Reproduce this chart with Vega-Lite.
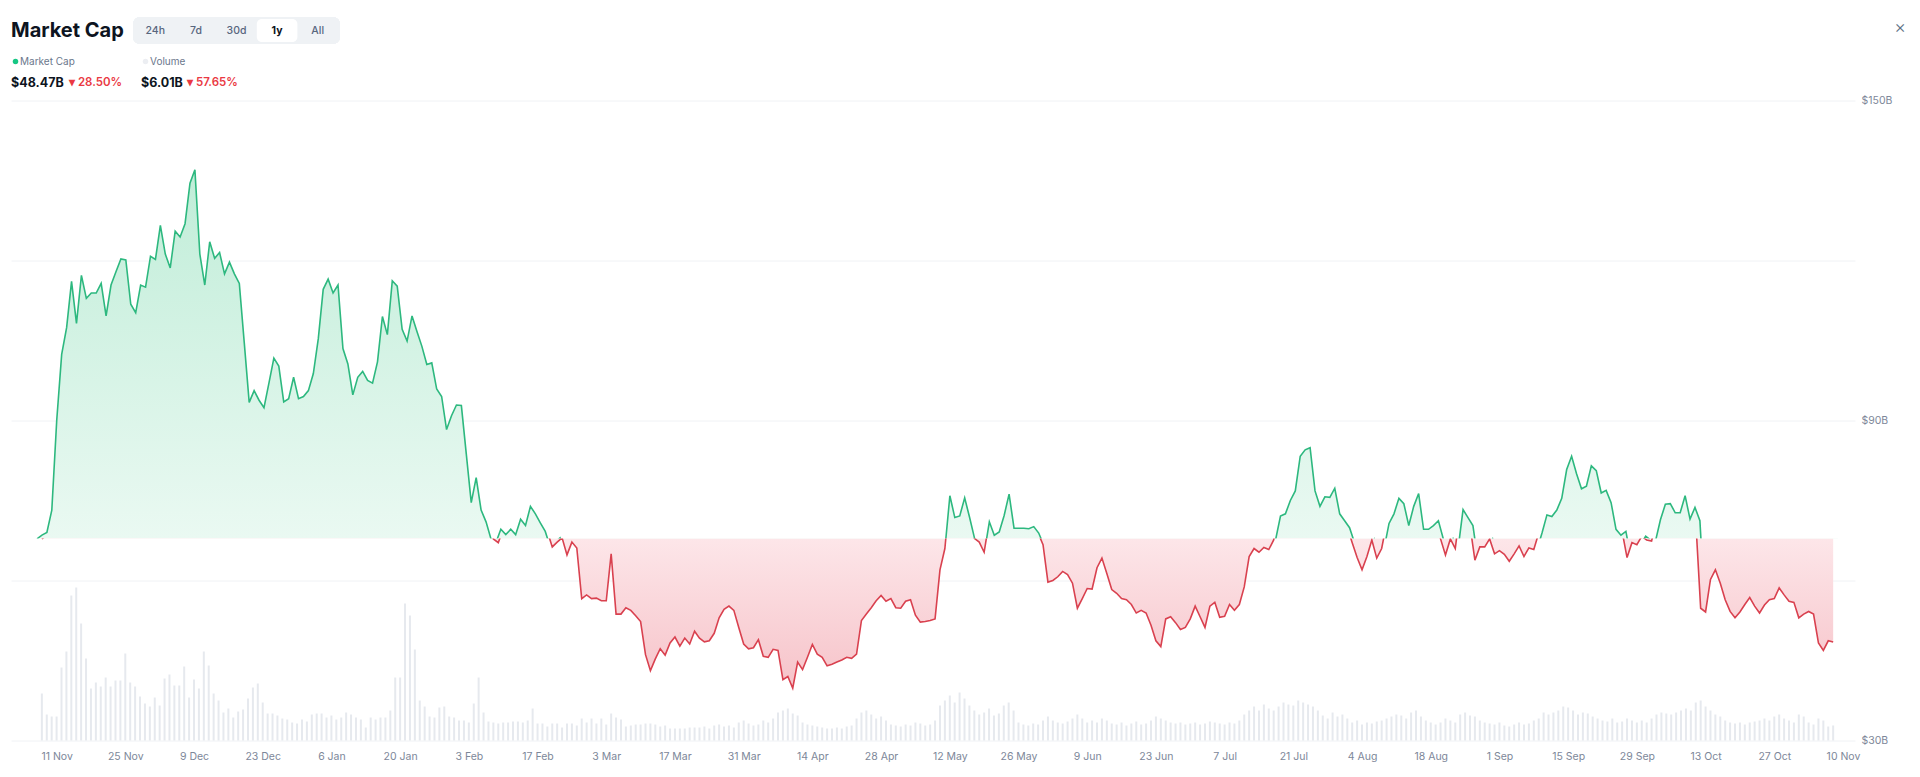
{
"$schema":"https://vega.github.io/schema/vega-lite/v6.json",
"background":"white",
"padding":{"left":11,"top":17,"right":0,"bottom":0},
"config":{"font":"Inter","view":{"stroke":null}},
"spacing":7,
"datasets":{
"ranges":[{"range":"24h"},{"range":"7d"},{"range":"30d"},{"range":"1y"},{"range":"All"}],
"market":[
{"date":"2024-11-08","cap":67.8,"vol":18.8},{"date":"2024-11-09","cap":68.5,"vol":10.4},{"date":"2024-11-10","cap":69.0,"vol":9.6},{"date":"2024-11-11","cap":73.2,"vol":9.6},{"date":"2024-11-12","cap":90.1,"vol":29.2},{"date":"2024-11-13","cap":102.4,"vol":35.6},{"date":"2024-11-14","cap":107.4,"vol":58.0},{"date":"2024-11-15","cap":116.1,"vol":61.2},{"date":"2024-11-16","cap":108.2,"vol":46.8},{"date":"2024-11-17","cap":117.2,"vol":32.8},{"date":"2024-11-18","cap":112.9,"vol":20.8},{"date":"2024-11-19","cap":113.9,"vol":23.2},{"date":"2024-11-20","cap":113.9,"vol":21.6},{"date":"2024-11-21","cap":115.7,"vol":25.2},{"date":"2024-11-22","cap":109.6,"vol":21.6},{"date":"2024-11-23","cap":115.4,"vol":24.0},{"date":"2024-11-24","cap":117.9,"vol":24.0},{"date":"2024-11-25","cap":120.3,"vol":34.8},{"date":"2024-11-26","cap":120.1,"vol":23.2},{"date":"2024-11-27","cap":111.8,"vol":21.6},{"date":"2024-11-28","cap":110.2,"vol":17.6},{"date":"2024-11-29","cap":115.4,"vol":14.8},{"date":"2024-11-30","cap":115.0,"vol":13.6},
{"date":"2024-12-01","cap":120.8,"vol":17.2},{"date":"2024-12-02","cap":120.2,"vol":14.0},{"date":"2024-12-03","cap":126.6,"vol":24.8},{"date":"2024-12-04","cap":121.2,"vol":26.4},{"date":"2024-12-05","cap":118.6,"vol":22.0},{"date":"2024-12-06","cap":125.5,"vol":22.0},{"date":"2024-12-07","cap":124.4,"vol":29.6},{"date":"2024-12-08","cap":126.9,"vol":17.2},{"date":"2024-12-09","cap":134.5,"vol":24.4},{"date":"2024-12-10","cap":137.0,"vol":20.8},{"date":"2024-12-11","cap":121.2,"vol":35.6},{"date":"2024-12-12","cap":115.4,"vol":30.0},{"date":"2024-12-13","cap":123.5,"vol":18.8},{"date":"2024-12-14","cap":120.4,"vol":16.0},{"date":"2024-12-15","cap":121.5,"vol":11.2},{"date":"2024-12-16","cap":117.5,"vol":12.8},{"date":"2024-12-17","cap":119.7,"vol":9.2},{"date":"2024-12-18","cap":117.5,"vol":11.6},{"date":"2024-12-19","cap":115.7,"vol":12.4},{"date":"2024-12-20","cap":104.6,"vol":16.8},{"date":"2024-12-21","cap":93.4,"vol":21.2},{"date":"2024-12-22","cap":95.6,"vol":22.8},{"date":"2024-12-23","cap":93.8,"vol":15.2},{"date":"2024-12-24","cap":92.4,"vol":10.8},{"date":"2024-12-25","cap":97.0,"vol":10.8},{"date":"2024-12-26","cap":101.7,"vol":10.0},{"date":"2024-12-27","cap":100.2,"vol":8.8},{"date":"2024-12-28","cap":93.5,"vol":8.4},{"date":"2024-12-29","cap":94.1,"vol":7.2},{"date":"2024-12-30","cap":98.1,"vol":6.8},{"date":"2024-12-31","cap":94.1,"vol":8.4},
{"date":"2025-01-01","cap":94.5,"vol":7.6},{"date":"2025-01-02","cap":95.6,"vol":10.4},{"date":"2025-01-03","cap":98.8,"vol":10.8},{"date":"2025-01-04","cap":105.3,"vol":10.8},{"date":"2025-01-05","cap":114.6,"vol":9.2},{"date":"2025-01-06","cap":116.5,"vol":10.0},{"date":"2025-01-07","cap":113.9,"vol":8.4},{"date":"2025-01-08","cap":115.4,"vol":9.2},{"date":"2025-01-09","cap":103.5,"vol":11.2},{"date":"2025-01-10","cap":100.6,"vol":10.4},{"date":"2025-01-11","cap":94.8,"vol":9.2},{"date":"2025-01-12","cap":98.1,"vol":8.4},{"date":"2025-01-13","cap":99.2,"vol":5.2},{"date":"2025-01-14","cap":97.5,"vol":9.2},{"date":"2025-01-15","cap":97.0,"vol":8.4},{"date":"2025-01-16","cap":101.0,"vol":9.2},{"date":"2025-01-17","cap":109.5,"vol":9.2},{"date":"2025-01-18","cap":106.1,"vol":12.0},{"date":"2025-01-19","cap":116.2,"vol":25.2},{"date":"2025-01-20","cap":115.2,"vol":25.2},{"date":"2025-01-21","cap":107.1,"vol":54.8},{"date":"2025-01-22","cap":104.9,"vol":50.0},{"date":"2025-01-23","cap":109.6,"vol":36.4},{"date":"2025-01-24","cap":106.7,"vol":16.0},{"date":"2025-01-25","cap":103.9,"vol":13.6},{"date":"2025-01-26","cap":100.5,"vol":9.6},{"date":"2025-01-27","cap":100.8,"vol":9.2},{"date":"2025-01-28","cap":95.9,"vol":13.2},{"date":"2025-01-29","cap":94.5,"vol":13.6},{"date":"2025-01-30","cap":88.3,"vol":9.6},{"date":"2025-01-31","cap":90.9,"vol":9.2},
{"date":"2025-02-01","cap":92.9,"vol":8.0},{"date":"2025-02-02","cap":92.8,"vol":8.0},{"date":"2025-02-03","cap":83.7,"vol":7.2},{"date":"2025-02-04","cap":74.6,"vol":14.8},{"date":"2025-02-05","cap":79.3,"vol":25.2},{"date":"2025-02-06","cap":73.2,"vol":11.2},{"date":"2025-02-07","cap":71.0,"vol":7.6},{"date":"2025-02-08","cap":67.8,"vol":7.2},{"date":"2025-02-09","cap":67.1,"vol":6.8},{"date":"2025-02-10","cap":69.6,"vol":7.2},{"date":"2025-02-11","cap":68.6,"vol":7.2},{"date":"2025-02-12","cap":69.6,"vol":7.6},{"date":"2025-02-13","cap":68.6,"vol":7.6},{"date":"2025-02-14","cap":71.5,"vol":7.2},{"date":"2025-02-15","cap":70.3,"vol":8.0},{"date":"2025-02-16","cap":73.9,"vol":12.8},{"date":"2025-02-17","cap":72.5,"vol":6.8},{"date":"2025-02-18","cap":70.8,"vol":6.8},{"date":"2025-02-19","cap":69.2,"vol":5.6},{"date":"2025-02-20","cap":66.3,"vol":6.8},{"date":"2025-02-21","cap":67.2,"vol":6.8},{"date":"2025-02-22","cap":68.0,"vol":5.2},{"date":"2025-02-23","cap":64.8,"vol":6.8},{"date":"2025-02-24","cap":67.2,"vol":6.8},{"date":"2025-02-25","cap":66.1,"vol":6.0},{"date":"2025-02-26","cap":56.6,"vol":8.8},{"date":"2025-02-27","cap":57.3,"vol":7.2},{"date":"2025-02-28","cap":56.6,"vol":8.8},
{"date":"2025-03-01","cap":56.7,"vol":6.8},{"date":"2025-03-02","cap":56.2,"vol":8.8},{"date":"2025-03-03","cap":56.2,"vol":6.4},{"date":"2025-03-04","cap":65.0,"vol":10.8},{"date":"2025-03-05","cap":53.7,"vol":9.2},{"date":"2025-03-06","cap":53.7,"vol":8.4},{"date":"2025-03-07","cap":54.9,"vol":5.6},{"date":"2025-03-08","cap":54.4,"vol":6.0},{"date":"2025-03-09","cap":53.4,"vol":6.4},{"date":"2025-03-10","cap":52.3,"vol":6.4},{"date":"2025-03-11","cap":46.1,"vol":6.8},{"date":"2025-03-12","cap":43.1,"vol":6.8},{"date":"2025-03-13","cap":45.3,"vol":6.4},{"date":"2025-03-14","cap":47.2,"vol":5.6},{"date":"2025-03-15","cap":46.0,"vol":6.0},{"date":"2025-03-16","cap":48.3,"vol":4.8},{"date":"2025-03-17","cap":49.4,"vol":4.8},{"date":"2025-03-18","cap":47.7,"vol":4.8},{"date":"2025-03-19","cap":49.2,"vol":4.8},{"date":"2025-03-20","cap":48.1,"vol":5.2},{"date":"2025-03-21","cap":50.5,"vol":5.2},{"date":"2025-03-22","cap":49.2,"vol":5.2},{"date":"2025-03-23","cap":48.5,"vol":5.6},{"date":"2025-03-24","cap":48.7,"vol":4.8},{"date":"2025-03-25","cap":50.1,"vol":6.0},{"date":"2025-03-26","cap":53.0,"vol":6.4},{"date":"2025-03-27","cap":54.6,"vol":5.6},{"date":"2025-03-28","cap":55.2,"vol":6.0},{"date":"2025-03-29","cap":54.4,"vol":5.2},{"date":"2025-03-30","cap":51.2,"vol":7.2},{"date":"2025-03-31","cap":48.1,"vol":8.0},
{"date":"2025-04-01","cap":47.2,"vol":6.8},{"date":"2025-04-02","cap":47.4,"vol":6.0},{"date":"2025-04-03","cap":48.9,"vol":6.4},{"date":"2025-04-04","cap":45.8,"vol":8.0},{"date":"2025-04-05","cap":45.6,"vol":7.2},{"date":"2025-04-06","cap":47.1,"vol":8.8},{"date":"2025-04-07","cap":46.9,"vol":11.2},{"date":"2025-04-08","cap":41.4,"vol":12.0},{"date":"2025-04-09","cap":42.0,"vol":12.8},{"date":"2025-04-10","cap":39.8,"vol":10.8},{"date":"2025-04-11","cap":44.7,"vol":10.0},{"date":"2025-04-12","cap":43.3,"vol":7.2},{"date":"2025-04-13","cap":45.6,"vol":6.4},{"date":"2025-04-14","cap":48.0,"vol":6.0},{"date":"2025-04-15","cap":46.2,"vol":5.6},{"date":"2025-04-16","cap":45.6,"vol":5.2},{"date":"2025-04-17","cap":44.0,"vol":4.8},{"date":"2025-04-18","cap":44.3,"vol":4.8},{"date":"2025-04-19","cap":44.7,"vol":5.2},{"date":"2025-04-20","cap":45.1,"vol":4.8},{"date":"2025-04-21","cap":45.6,"vol":5.6},{"date":"2025-04-22","cap":45.4,"vol":6.0},{"date":"2025-04-23","cap":46.2,"vol":8.8},{"date":"2025-04-24","cap":52.5,"vol":11.2},{"date":"2025-04-25","cap":53.7,"vol":12.0},{"date":"2025-04-26","cap":54.9,"vol":10.4},{"date":"2025-04-27","cap":56.2,"vol":8.8},{"date":"2025-04-28","cap":57.2,"vol":9.6},{"date":"2025-04-29","cap":56.1,"vol":8.0},{"date":"2025-04-30","cap":56.6,"vol":6.4},
{"date":"2025-05-01","cap":54.9,"vol":6.0},{"date":"2025-05-02","cap":54.8,"vol":5.6},{"date":"2025-05-03","cap":56.1,"vol":6.4},{"date":"2025-05-04","cap":56.4,"vol":6.0},{"date":"2025-05-05","cap":53.5,"vol":7.2},{"date":"2025-05-06","cap":52.2,"vol":6.8},{"date":"2025-05-07","cap":52.3,"vol":6.0},{"date":"2025-05-08","cap":52.5,"vol":6.4},{"date":"2025-05-09","cap":52.8,"vol":8.0},{"date":"2025-05-10","cap":62.0,"vol":14.0},{"date":"2025-05-11","cap":66.0,"vol":16.0},{"date":"2025-05-12","cap":75.9,"vol":18.0},{"date":"2025-05-13","cap":71.8,"vol":15.2},{"date":"2025-05-14","cap":72.1,"vol":19.2},{"date":"2025-05-15","cap":75.5,"vol":16.8},{"date":"2025-05-16","cap":71.8,"vol":14.0},{"date":"2025-05-17","cap":67.9,"vol":12.0},{"date":"2025-05-18","cap":67.2,"vol":10.4},{"date":"2025-05-19","cap":65.3,"vol":11.2},{"date":"2025-05-20","cap":71.0,"vol":12.8},{"date":"2025-05-21","cap":68.5,"vol":10.0},{"date":"2025-05-22","cap":69.1,"vol":10.8},{"date":"2025-05-23","cap":72.2,"vol":14.0},{"date":"2025-05-24","cap":76.2,"vol":15.2},{"date":"2025-05-25","cap":69.8,"vol":12.0},{"date":"2025-05-26","cap":69.8,"vol":7.2},{"date":"2025-05-27","cap":69.8,"vol":6.4},{"date":"2025-05-28","cap":69.7,"vol":6.0},{"date":"2025-05-29","cap":70.1,"vol":6.8},{"date":"2025-05-30","cap":68.9,"vol":6.4},{"date":"2025-05-31","cap":66.7,"vol":8.0},
{"date":"2025-06-01","cap":59.7,"vol":9.6},{"date":"2025-06-02","cap":60.0,"vol":8.0},{"date":"2025-06-03","cap":60.7,"vol":7.2},{"date":"2025-06-04","cap":61.7,"vol":6.8},{"date":"2025-06-05","cap":61.1,"vol":7.6},{"date":"2025-06-06","cap":59.5,"vol":8.8},{"date":"2025-06-07","cap":54.8,"vol":10.4},{"date":"2025-06-08","cap":56.6,"vol":8.8},{"date":"2025-06-09","cap":58.5,"vol":7.2},{"date":"2025-06-10","cap":58.4,"vol":8.0},{"date":"2025-06-11","cap":62.4,"vol":7.2},{"date":"2025-06-12","cap":64.2,"vol":8.8},{"date":"2025-06-13","cap":61.3,"vol":8.0},{"date":"2025-06-14","cap":58.3,"vol":6.8},{"date":"2025-06-15","cap":57.6,"vol":6.4},{"date":"2025-06-16","cap":56.6,"vol":7.2},{"date":"2025-06-17","cap":56.4,"vol":6.0},{"date":"2025-06-18","cap":55.5,"vol":6.8},{"date":"2025-06-19","cap":53.9,"vol":7.6},{"date":"2025-06-20","cap":54.4,"vol":6.4},{"date":"2025-06-21","cap":53.9,"vol":6.8},{"date":"2025-06-22","cap":51.6,"vol":8.0},{"date":"2025-06-23","cap":48.7,"vol":9.6},{"date":"2025-06-24","cap":47.6,"vol":8.8},{"date":"2025-06-25","cap":52.8,"vol":8.0},{"date":"2025-06-26","cap":53.2,"vol":7.2},{"date":"2025-06-27","cap":52.1,"vol":6.8},{"date":"2025-06-28","cap":50.8,"vol":7.2},{"date":"2025-06-29","cap":51.2,"vol":6.4},{"date":"2025-06-30","cap":52.8,"vol":6.8},
{"date":"2025-07-01","cap":55.2,"vol":7.2},{"date":"2025-07-02","cap":53.2,"vol":6.4},{"date":"2025-07-03","cap":51.2,"vol":6.8},{"date":"2025-07-04","cap":55.2,"vol":7.6},{"date":"2025-07-05","cap":55.9,"vol":7.2},{"date":"2025-07-06","cap":53.1,"vol":6.8},{"date":"2025-07-07","cap":53.3,"vol":6.4},{"date":"2025-07-08","cap":55.5,"vol":7.2},{"date":"2025-07-09","cap":54.4,"vol":6.8},{"date":"2025-07-10","cap":55.5,"vol":8.0},{"date":"2025-07-11","cap":58.8,"vol":10.4},{"date":"2025-07-12","cap":64.5,"vol":12.0},{"date":"2025-07-13","cap":66.0,"vol":13.6},{"date":"2025-07-14","cap":65.3,"vol":12.0},{"date":"2025-07-15","cap":66.2,"vol":14.4},{"date":"2025-07-16","cap":65.8,"vol":12.8},{"date":"2025-07-17","cap":67.6,"vol":12.0},{"date":"2025-07-18","cap":72.1,"vol":13.6},{"date":"2025-07-19","cap":72.5,"vol":15.2},{"date":"2025-07-20","cap":75.0,"vol":14.4},{"date":"2025-07-21","cap":76.8,"vol":14.0},{"date":"2025-07-22","cap":83.3,"vol":16.0},{"date":"2025-07-23","cap":84.5,"vol":15.2},{"date":"2025-07-24","cap":84.9,"vol":14.4},{"date":"2025-07-25","cap":76.8,"vol":13.6},{"date":"2025-07-26","cap":73.9,"vol":12.0},{"date":"2025-07-27","cap":75.7,"vol":10.0},{"date":"2025-07-28","cap":75.6,"vol":8.8},{"date":"2025-07-29","cap":77.3,"vol":11.2},{"date":"2025-07-30","cap":72.5,"vol":9.6},{"date":"2025-07-31","cap":71.2,"vol":10.4},
{"date":"2025-08-01","cap":69.9,"vol":8.8},{"date":"2025-08-02","cap":67.1,"vol":7.2},{"date":"2025-08-03","cap":64.3,"vol":8.0},{"date":"2025-08-04","cap":62.0,"vol":6.4},{"date":"2025-08-05","cap":64.5,"vol":7.2},{"date":"2025-08-06","cap":67.6,"vol":6.8},{"date":"2025-08-07","cap":64.2,"vol":7.6},{"date":"2025-08-08","cap":66.0,"vol":8.0},{"date":"2025-08-09","cap":70.7,"vol":8.8},{"date":"2025-08-10","cap":72.5,"vol":9.6},{"date":"2025-08-11","cap":75.4,"vol":10.4},{"date":"2025-08-12","cap":74.4,"vol":10.0},{"date":"2025-08-13","cap":70.3,"vol":8.8},{"date":"2025-08-14","cap":73.9,"vol":11.2},{"date":"2025-08-15","cap":76.3,"vol":12.0},{"date":"2025-08-16","cap":69.6,"vol":9.6},{"date":"2025-08-17","cap":69.6,"vol":8.0},{"date":"2025-08-18","cap":70.3,"vol":7.2},{"date":"2025-08-19","cap":71.2,"vol":6.4},{"date":"2025-08-20","cap":67.8,"vol":7.2},{"date":"2025-08-21","cap":64.8,"vol":8.8},{"date":"2025-08-22","cap":67.8,"vol":8.0},{"date":"2025-08-23","cap":66.0,"vol":7.2},{"date":"2025-08-24","cap":73.3,"vol":10.4},{"date":"2025-08-25","cap":71.8,"vol":11.2},{"date":"2025-08-26","cap":70.3,"vol":10.0},{"date":"2025-08-27","cap":63.8,"vol":9.6},{"date":"2025-08-28","cap":66.3,"vol":8.0},{"date":"2025-08-29","cap":66.3,"vol":7.2},{"date":"2025-08-30","cap":67.8,"vol":6.8},{"date":"2025-08-31","cap":65.0,"vol":6.4},
{"date":"2025-09-01","cap":65.6,"vol":7.2},{"date":"2025-09-02","cap":64.9,"vol":6.0},{"date":"2025-09-03","cap":63.6,"vol":5.6},{"date":"2025-09-04","cap":65.0,"vol":6.4},{"date":"2025-09-05","cap":66.5,"vol":7.2},{"date":"2025-09-06","cap":64.5,"vol":6.4},{"date":"2025-09-07","cap":66.1,"vol":6.8},{"date":"2025-09-08","cap":65.8,"vol":8.0},{"date":"2025-09-09","cap":68.9,"vol":8.8},{"date":"2025-09-10","cap":72.3,"vol":11.2},{"date":"2025-09-11","cap":72.0,"vol":10.4},{"date":"2025-09-12","cap":73.2,"vol":11.2},{"date":"2025-09-13","cap":75.4,"vol":12.0},{"date":"2025-09-14","cap":80.8,"vol":13.6},{"date":"2025-09-15","cap":83.3,"vol":13.2},{"date":"2025-09-16","cap":80.0,"vol":12.0},{"date":"2025-09-17","cap":77.2,"vol":10.4},{"date":"2025-09-18","cap":77.7,"vol":11.2},{"date":"2025-09-19","cap":81.5,"vol":10.8},{"date":"2025-09-20","cap":80.6,"vol":9.6},{"date":"2025-09-21","cap":76.4,"vol":8.8},{"date":"2025-09-22","cap":76.9,"vol":8.0},{"date":"2025-09-23","cap":74.6,"vol":7.6},{"date":"2025-09-24","cap":69.6,"vol":8.8},{"date":"2025-09-25","cap":68.5,"vol":7.2},{"date":"2025-09-26","cap":69.2,"vol":7.6},{"date":"2025-09-27","cap":64.3,"vol":8.8},{"date":"2025-09-28","cap":67.1,"vol":8.0},{"date":"2025-09-29","cap":66.7,"vol":7.2},{"date":"2025-09-30","cap":68.3,"vol":8.0},
{"date":"2025-10-01","cap":67.6,"vol":7.2},{"date":"2025-10-02","cap":67.4,"vol":8.8},{"date":"2025-10-03","cap":71.4,"vol":10.4},{"date":"2025-10-04","cap":74.3,"vol":11.2},{"date":"2025-10-05","cap":74.4,"vol":10.8},{"date":"2025-10-06","cap":72.7,"vol":10.4},{"date":"2025-10-07","cap":72.7,"vol":11.2},{"date":"2025-10-08","cap":75.9,"vol":12.0},{"date":"2025-10-09","cap":71.5,"vol":12.8},{"date":"2025-10-10","cap":73.7,"vol":12.0},{"date":"2025-10-11","cap":71.2,"vol":15.2},{"date":"2025-10-12","cap":54.8,"vol":16.0},{"date":"2025-10-13","cap":54.1,"vol":13.6},{"date":"2025-10-14","cap":60.2,"vol":12.0},{"date":"2025-10-15","cap":62.0,"vol":10.4},{"date":"2025-10-16","cap":59.5,"vol":9.6},{"date":"2025-10-17","cap":56.4,"vol":8.0},{"date":"2025-10-18","cap":54.2,"vol":7.2},{"date":"2025-10-19","cap":53.0,"vol":6.8},{"date":"2025-10-20","cap":54.1,"vol":7.2},{"date":"2025-10-21","cap":55.5,"vol":6.4},{"date":"2025-10-22","cap":56.8,"vol":7.2},{"date":"2025-10-23","cap":55.2,"vol":7.6},{"date":"2025-10-24","cap":53.9,"vol":8.0},{"date":"2025-10-25","cap":55.4,"vol":8.8},{"date":"2025-10-26","cap":56.4,"vol":8.0},{"date":"2025-10-27","cap":56.6,"vol":9.6},{"date":"2025-10-28","cap":58.6,"vol":10.4},{"date":"2025-10-29","cap":57.3,"vol":8.8},{"date":"2025-10-30","cap":56.1,"vol":8.0},{"date":"2025-10-31","cap":55.9,"vol":7.2},
{"date":"2025-11-01","cap":53.0,"vol":10.4},{"date":"2025-11-02","cap":53.7,"vol":9.6},{"date":"2025-11-03","cap":54.2,"vol":7.2},{"date":"2025-11-04","cap":53.7,"vol":6.4},{"date":"2025-11-05","cap":48.3,"vol":8.8},{"date":"2025-11-06","cap":46.9,"vol":8.0},{"date":"2025-11-07","cap":48.7,"vol":5.6},{"date":"2025-11-08","cap":48.47,"vol":6.01}
]},
"vconcat":[
{
"spacing":14,"bounds":"flush",
"resolve":{"scale":{"x":"independent"}},
"hconcat":[
{"width":110,"height":23,"data":{"values":[{"label":"Market Cap"}]},"mark":{"type":"text","fontSize":20,"fontWeight":700,"color":"#0d1421","align":"left","baseline":"middle"},"encoding":{"x":{"datum":0,"type":"quantitative","scale":{"domain":[0,1]},"axis":null},"text":{"field":"label"}}},
{
"width":203,"height":23,
"data":{"name":"ranges"},
"layer":[
{"mark":{"type":"rect","color":"#eff2f5","stroke":"#eff2f5","strokeWidth":4,"cornerRadius":5}},
{"transform":[{"filter":"datum.range === '1y'"}],"mark":{"type":"bar","color":"#ffffff","cornerRadius":5,"size":37},"encoding":{"x":{"field":"range","type":"nominal","sort":null,"axis":null,"scale":{"domain":["24h","7d","30d","1y","All"],"paddingInner":0,"paddingOuter":0}}}},
{"transform":[{"filter":"datum.range !== '1y'"}],"mark":{"type":"text","fontSize":10.5,"color":"#58667e","fontWeight":500},"encoding":{"x":{"field":"range","type":"nominal","sort":null,"axis":null,"scale":{"domain":["24h","7d","30d","1y","All"],"paddingInner":0,"paddingOuter":0}},"text":{"field":"range"}}},
{"transform":[{"filter":"datum.range === '1y'"}],"mark":{"type":"text","fontSize":10.5,"color":"#0d1421","fontWeight":700},"encoding":{"x":{"field":"range","type":"nominal","sort":null,"axis":null,"scale":{"domain":["24h","7d","30d","1y","All"],"paddingInner":0,"paddingOuter":0}},"text":{"field":"range"}}}
]
},
{"width":1548,"height":23,"data":{"values":[{"icon":"×"}]},"mark":{"type":"text","fontSize":18,"fontWeight":300,"color":"#616e85","align":"center","baseline":"middle","dy":-3},"encoding":{"x":{"datum":1,"type":"quantitative","scale":{"domain":[0,1]},"axis":null},"text":{"field":"icon"}}}
]
},
{
"spacing":2.5,
"vconcat":[
{
"spacing":0,"bounds":"flush",
"resolve":{"scale":{"x":"independent","y":"independent"}},
"hconcat":[
{"width":9,"height":42,"layer":[
{"data":{"values":[{"line":"legend"}]},"mark":{"type":"point","filled":true,"shape":"circle","size":30,"color":"#16c784","opacity":1},"encoding":{"y":{"field":"line","type":"nominal","scale":{"type":"point","domain":["legend","value"],"padding":0.5},"axis":null}}},
{"data":{"values":[{"line":"value","label":"$48.47B"}]},"mark":{"type":"text","align":"left","baseline":"middle","fontSize":12.5,"fontWeight":700,"color":"#0d1421"},"encoding":{"x":{"datum":0,"type":"quantitative","scale":{"domain":[0,1]},"axis":null},"y":{"field":"line","type":"nominal","scale":{"type":"point","domain":["legend","value"],"padding":0.5},"axis":null},"text":{"field":"label"}}}
]},
{"width":49,"height":42,"data":{"values":[{"line":"legend","label":"Market Cap"}]},"mark":{"type":"text","align":"left","baseline":"middle","fontSize":10,"color":"#6b778c"},"encoding":{"x":{"datum":0,"type":"quantitative","scale":{"domain":[0,1]},"axis":null},"y":{"field":"line","type":"nominal","scale":{"type":"point","domain":["legend","value"],"padding":0.5},"axis":null},"text":{"field":"label"}}},
{"width":72,"height":42,"data":{"values":[{"line":"value","label":"▾ 28.50%"}]},"mark":{"type":"text","align":"left","baseline":"middle","fontSize":11.5,"fontWeight":600,"color":"#ea3943"},"encoding":{"x":{"datum":0,"type":"quantitative","scale":{"domain":[0,1]},"axis":null},"y":{"field":"line","type":"nominal","scale":{"type":"point","domain":["legend","value"],"padding":0.5},"axis":null},"text":{"field":"label"}}},
{"width":9,"height":42,"layer":[
{"data":{"values":[{"line":"legend"}]},"mark":{"type":"point","filled":true,"shape":"circle","size":30,"color":"#eceef2","opacity":1},"encoding":{"y":{"field":"line","type":"nominal","scale":{"type":"point","domain":["legend","value"],"padding":0.5},"axis":null}}},
{"data":{"values":[{"line":"value","label":"$6.01B"}]},"mark":{"type":"text","align":"left","baseline":"middle","fontSize":12.5,"fontWeight":700,"color":"#0d1421"},"encoding":{"x":{"datum":0,"type":"quantitative","scale":{"domain":[0,1]},"axis":null},"y":{"field":"line","type":"nominal","scale":{"type":"point","domain":["legend","value"],"padding":0.5},"axis":null},"text":{"field":"label"}}}
]},
{"width":37,"height":42,"data":{"values":[{"line":"legend","label":"Volume"}]},"mark":{"type":"text","align":"left","baseline":"middle","fontSize":10,"color":"#6b778c"},"encoding":{"x":{"datum":0,"type":"quantitative","scale":{"domain":[0,1]},"axis":null},"y":{"field":"line","type":"nominal","scale":{"type":"point","domain":["legend","value"],"padding":0.5},"axis":null},"text":{"field":"label"}}},
{"width":60,"height":42,"data":{"values":[{"line":"value","label":"▾ 57.65%"}]},"mark":{"type":"text","align":"left","baseline":"middle","fontSize":11.5,"fontWeight":600,"color":"#ea3943"},"encoding":{"x":{"datum":0,"type":"quantitative","scale":{"domain":[0,1]},"axis":null},"y":{"field":"line","type":"nominal","scale":{"type":"point","domain":["legend","value"],"padding":0.5},"axis":null},"text":{"field":"label"}}}
]
},
{
"spacing":0,
"vconcat":[
{
"width":1844,"height":438,
"data":{"name":"market"},
"encoding":{
"x":{"field":"date","type":"temporal","scale":{"type":"utc","domain":[{"year":2024,"month":11,"date":2,"hours":17,"minutes":30,"utc":true},{"year":2025,"month":11,"date":11,"hours":10,"minutes":20,"utc":true}]},"axis":null},
"y":{"field":"cap","type":"quantitative","scale":{"domain":[67.875,150],"nice":false,"zero":false},"axis":{"orient":"right","values":[90,120,150],"labelExpr":"datum.value == 120 ? '' : '$' + datum.value + 'B'","grid":true,"gridColor":"#f0f2f5","ticks":false,"domain":false,"labelFontSize":10.5,"labelColor":"#7d8799","labelPadding":6,"title":null}}
},
"layer":[
{"mark":{"type":"area","clip":true,"color":{"gradient":"linear","x1":0,"y1":0,"x2":0,"y2":1,"stops":[{"offset":0,"color":"#c0edd8"},{"offset":0.711,"color":"#eaf9f2"},{"offset":1,"color":"#eaf9f2"}]}},"encoding":{"y2":{"datum":67.875}}},
{"mark":{"type":"line","clip":true,"color":"#2db87f","strokeWidth":1.6}}
]
},
{
"width":1844,"height":202,
"data":{"name":"market"},
"encoding":{
"x":{"field":"date","type":"temporal","scale":{"type":"utc","domain":[{"year":2024,"month":11,"date":2,"hours":17,"minutes":30,"utc":true},{"year":2025,"month":11,"date":11,"hours":10,"minutes":20,"utc":true}]},"axis":{"values":[{"year":2024,"month":11,"date":11,"utc":true},{"year":2024,"month":11,"date":25,"utc":true},{"year":2024,"month":12,"date":9,"utc":true},{"year":2024,"month":12,"date":23,"utc":true},{"year":2025,"month":1,"date":6,"utc":true},{"year":2025,"month":1,"date":20,"utc":true},{"year":2025,"month":2,"date":3,"utc":true},{"year":2025,"month":2,"date":17,"utc":true},{"year":2025,"month":3,"date":3,"utc":true},{"year":2025,"month":3,"date":17,"utc":true},{"year":2025,"month":3,"date":31,"utc":true},{"year":2025,"month":4,"date":14,"utc":true},{"year":2025,"month":4,"date":28,"utc":true},{"year":2025,"month":5,"date":12,"utc":true},{"year":2025,"month":5,"date":26,"utc":true},{"year":2025,"month":6,"date":9,"utc":true},{"year":2025,"month":6,"date":23,"utc":true},{"year":2025,"month":7,"date":7,"utc":true},{"year":2025,"month":7,"date":21,"utc":true},{"year":2025,"month":8,"date":4,"utc":true},{"year":2025,"month":8,"date":18,"utc":true},{"year":2025,"month":9,"date":1,"utc":true},{"year":2025,"month":9,"date":15,"utc":true},{"year":2025,"month":9,"date":29,"utc":true},{"year":2025,"month":10,"date":13,"utc":true},{"year":2025,"month":10,"date":27,"utc":true},{"year":2025,"month":11,"date":10,"utc":true}],"format":"%-d %b","labelFontSize":10.5,"labelColor":"#7d8799","ticks":false,"domain":false,"grid":false,"labelPadding":11,"labelFlush":false,"labelOverlap":false,"title":null}}
},
"layer":[
{"mark":{"type":"bar","color":"#e6e9ee","size":2},"encoding":{"y":{"field":"vol","type":"quantitative","scale":{"domain":[0,80.8],"nice":false},"axis":null}}},
{"encoding":{"y":{"field":"cap","type":"quantitative","scale":{"domain":[30,67.875],"nice":false,"zero":false},"axis":{"orient":"right","values":[30,60],"labelExpr":"datum.value == 60 ? '' : '$30B'","grid":true,"gridColor":"#f0f2f5","ticks":false,"domain":false,"labelFontSize":10.5,"labelColor":"#7d8799","labelPadding":6,"title":null}}},
"layer":[
{"mark":{"type":"area","clip":true,"color":{"gradient":"linear","x1":0,"y1":0,"x2":0,"y2":1,"stops":[{"offset":0,"color":"#fde9eb"},{"offset":0.711,"color":"#fde6e9"},{"offset":1,"color":"#f6c3c9"}]}},"encoding":{"y2":{"datum":67.875}}},
{"mark":{"type":"line","clip":true,"color":"#d9414f","strokeWidth":1.6}}
]}
],
"resolve":{"scale":{"y":"independent"}}
}
]
}
]
}
]
}
